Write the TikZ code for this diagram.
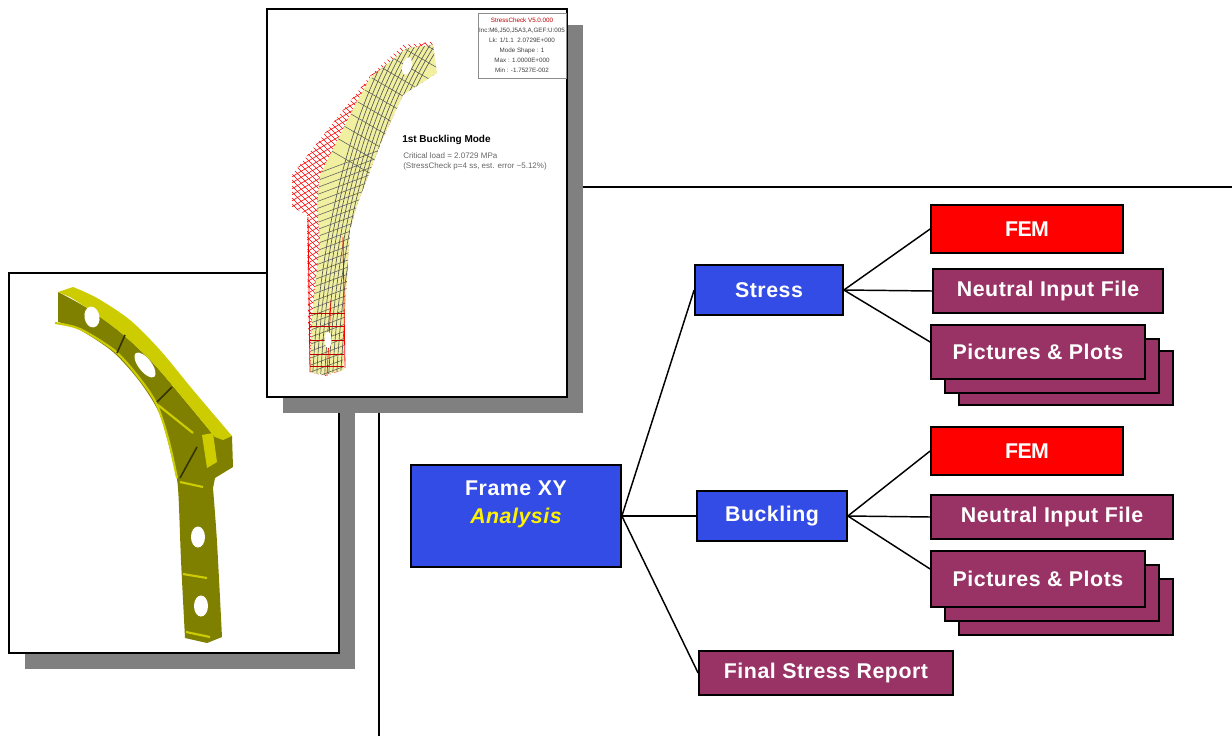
\documentclass[tikz,border=0pt]{standalone}
\usepackage{fontspec}
\setmainfont{Liberation Sans}
\definecolor{boxblue}{RGB}{51,76,230}
\definecolor{boxplum}{RGB}{153,51,102}
\definecolor{shadowgray}{RGB}{128,128,128}
\definecolor{partolive}{RGB}{128,128,0}
\definecolor{partyellow}{RGB}{204,204,0}
\definecolor{meshyellow}{RGB}{240,240,160}
\usetikzlibrary{positioning}

\begin{document}
\begin{tikzpicture}[
		x=0.75pt, y=-0.75pt,
		cbox/.style={draw=black, line width=1.3pt, text=white, align=center,
			font=\fontsize{16}{21}\selectfont\bfseries\addfontfeatures{LetterSpace=2.5}, inner sep=0pt},
		bluebox/.style={cbox, fill=boxblue},
		plumbox/.style={cbox, fill=boxplum},
		redbox/.style={cbox, fill=red},
		conn/.style={draw=black, line width=1.1pt},
		sheet/.style={draw=black, line width=1.3pt, fill=white},
		shadow/.style={fill=shadowgray},
		rule/.style={draw=black, line width=0.9pt},
		rib/.style={draw=partyellow, line width=1.6pt},
		web/.style={draw=black!60!partolive, line width=1.2pt},
		size/.style n args={2}{minimum width=#1*0.75pt, minimum height=#2*0.75pt}
		]
		\useasboundingbox (0,0) rectangle (1232,736);
		
		% rules behind the sheets
		\coordinate (ruleh) at (1232,187);
		\coordinate (rulev) at (379,736);
		\draw[rule] (379,187) -- (ruleh);
		\draw[rule] (379,187) -- (rulev);
		
		% left sheet with the part
		\fill[shadow] (25,289) rectangle (355,669);
		\draw[sheet] (9,273) rectangle (339,653);
		\fill[partolive] plot[smooth] coordinates {(58,292) (87,308) (120,332) (153,363) (187,403) (215,437)}
			-- (232,436) -- (233,467) -- (215,478) -- (213,488)
			-- plot[smooth] coordinates {(213,488) (217,542) (222,637)} -- (207,643) -- (185,638)
			-- plot[smooth] coordinates {(185,638) (181,560) (178,488) (173,462) (160,415) (140,382) (113,352) (80,330) (58,322)} -- cycle;
		\fill[partyellow] plot[smooth] coordinates {(73,287) (97,298) (130,320) (160,350) (193,390) (232,436)}
			-- (223,440) -- (215,437)
			-- plot[smooth] coordinates {(215,437) (187,403) (153,363) (120,332) (87,308) (70,297)} -- (58,292) -- cycle;
		\draw[rib] plot[smooth] coordinates {(55,323) (80,329) (115,351) (140,379) (157,405) (169,442) (177,478)};
		\fill[partyellow] (202,435) -- (213,433) -- (217,462) -- (207,468) -- cycle;
		\draw[rib] (158,405) -- (193,433);
		\draw[rib] (180,482) -- (203,487);
		\draw[rib] (183,574) -- (207,578);
		\draw[rib] (186,632) -- (210,637);
		\draw[web] (125,335) -- (117,353);
		\draw[web] (172,387) -- (157,402);
		\draw[web] (197,447) -- (180,478);
		\fill[white, rotate around={10:(92,317)}] (92,317) ellipse[x radius=7.5, y radius=10.5];
		\fill[white, rotate around={38:(145,365)}] (145,365) ellipse[x radius=6.5, y radius=15];
		\fill[white] (198,537) ellipse[x radius=7, y radius=10.5];
		\fill[white] (201,606) ellipse[x radius=7, y radius=10.5];
		
		% right sheet with the buckling plot
		\fill[shadow] (283,25) rectangle (583,413);
		\draw[sheet] (267,9) rectangle (567,397);
		\begin{scope}
			\clip (292,175) -- (370,76) -- (403,45) -- (432,42) -- (437,73) -- (403,95) -- (380,145) -- (357,205)
				-- (350,230) -- (345,310) -- (343,370) -- (325,376) -- (310,372) -- (308,317) -- (307,215) -- (292,207) -- cycle;
			\foreach \s in {0,...,75}
			\draw[red, line width=0.4pt] (280,-108+\s*6) -- (460,72+\s*6);
			\foreach \s in {0,...,47}
			\draw[red, line width=0.4pt] (280,130+\s*6) -- (460,22+\s*6);
		\end{scope}
		\begin{scope}
			\clip (370,78) -- (350,115) -- (320,175) -- (317,205) -- (320,240) -- (312,317) -- (310,372) -- (325,375)
				-- (343,370) -- (345,310) -- (350,230) -- (357,205) -- (380,145) -- (403,95) -- (437,73) -- (433,45) -- (407,48) -- cycle;
			\fill[meshyellow] (290,30) rectangle (450,390);
			\foreach \s in {0,...,10}
			\draw[black!65, line width=0.5pt] (312+\s*4,390) .. controls (318+\s*4,250) and (345+\s*4,120) .. (400+\s*5,30);
			\foreach \s in {0,...,30}
			\draw[black!65, line width=0.4pt] (300,180+\s*7) -- (380,150+\s*7);
			\foreach \s in {0,...,12}
			\draw[black!65, line width=0.4pt] (330+\s*7,150-\s*12) -- (390+\s*7,185-\s*12);
		\end{scope}
		\draw[red, line width=0.6pt] (308,217) -- (310,372);
		\draw[red, line width=0.6pt] (343,237) -- (345,368);
		\draw[red, line width=0.5pt] (327,376) -- (331,300);
		\foreach \y in {326,340,354,366}
		\draw[red!75!black, line width=0.3pt] (310,\y) -- (344,\y);
		\draw[red!70!black, line width=0.7pt] (309,313) -- (345,313);
		\fill[white] (328,340) ellipse[x radius=3.5, y radius=8];
		\fill[white, rotate around={-15:(407,66)}] (407,66) ellipse[x radius=4.5, y radius=9];
		
		% legend of the plot
		\node[draw=black!45, fill=white, line width=0.6pt, inner sep=0pt, size={88}{65}, align=center,
			font=\fontsize{4.7}{7.5}\selectfont, text=black!75] (legend) at (522,45.5)
			{\textcolor{red!75!black}{StressCheck V5.0.000}\\
			Inc:M6,J50,J5A3,A,GEF:U:005\\
			Lk: 1/1.1 \ 2.0729E+000\\
			Mode Shape : 1\\
			Max : 1.0000E+000\\
			Min : -1.7527E-002};
		\node[anchor=west, font=\fontsize{7.5}{9}\selectfont\bfseries, inner sep=0pt] (modetitle) at (402,140) {1st Buckling Mode};
		\node[anchor=north west, font=\fontsize{6}{7.6}\selectfont, text=black!60, align=left, inner sep=0pt] (modetext) at (403,152)
			{Critical load = 2.0729 MPa\\(StressCheck p=4 ss, est. error \char`\~5.12\%)};
		
		% tree of boxes
		\node[bluebox, size={210}{102}] (frame) at (516,516) {Frame XY\\\textcolor{yellow}{\itshape Analysis}\\~};
		\node[bluebox, size={148}{50}] (stress) at (769,290) {Stress};
		\node[bluebox, size={150}{50}] (buckling) at (772,516) {Buckling};
		\node[plumbox, size={254}{44}] (report) at (826,673) {Final Stress Report};
		\node[redbox, size={192}{48}] (fema) at (1027,229) {\addfontfeatures{LetterSpace=-3}FEM};
		\node[plumbox, size={230}{44}] (inputa) at (1048,291) {Neutral Input File};
		\node[plumbox, size={214}{54}] (picsac) at (1066,378) {};
		\node[plumbox, size={214}{54}] (picsab) at (1052,366) {};
		\node[plumbox, size={214}{54}] (picsa) at (1038,352) {Pictures \& Plots};
		\node[redbox, size={192}{48}] (femb) at (1027,451) {\addfontfeatures{LetterSpace=-3}FEM};
		\node[plumbox, size={242}{44}] (inputb) at (1052,517) {Neutral Input File};
		\node[plumbox, size={214}{56}] (picsbc) at (1066,607) {};
		\node[plumbox, size={214}{56}] (picsbb) at (1052,593) {};
		\node[plumbox, size={214}{56}] (picsb) at (1038,579) {Pictures \& Plots};
		
		\foreach \s/\t in {frame/stress, frame/buckling, frame/report, stress/inputa, buckling/inputb}
		\draw[conn] (\s.east) -- (\t.west);
		\foreach \s/\t in {stress/fema, buckling/femb}
		\draw[conn] (\s.east) -- (\t.west);
		\draw[conn] (stress.east) -- ([yshift=7.5pt]picsa.west);
		\draw[conn] (buckling.east) -- ([yshift=7.5pt]picsb.west);
	\end{tikzpicture}
\end{document}
